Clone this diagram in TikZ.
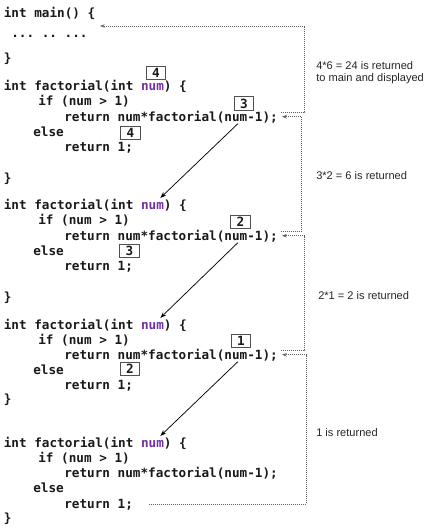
\documentclass[tikz,border=0pt]{standalone}
\usepackage{fontspec}
\setmonofont{DejaVu Sans Mono}
\setsansfont{Liberation Sans}
\usetikzlibrary{arrows.meta,calc}
\definecolor{NumClr}{RGB}{112,48,160}
\definecolor{CodeClr}{RGB}{25,25,25}
\definecolor{BoxClr}{RGB}{80,80,80}
\definecolor{DotClr}{RGB}{95,95,95}
\newcommand{\codefont}{\ttfamily\bfseries\fontsize{9.5}{11}\selectfont}
\newlength{\chw}

\tikzset{
  code/.style={anchor=base west,inner sep=0pt,text=CodeClr,font=\codefont},
  numvar/.style={code,text=NumClr},
  argbox/.style={draw=BoxClr,line width=0.6pt,minimum width=14.5pt,minimum height=10pt,
    inner sep=0pt,text=CodeClr,font=\codefont},
  note/.style={anchor=west,inner sep=0pt,align=left,text=black!85,
    font=\sffamily\fontsize{8.3}{9}\selectfont},
  call/.style={-{Stealth[length=4.5pt,width=3.2pt]},line width=0.55pt,shorten >=4pt},
  back/.style={-{Stealth[length=3.5pt,width=2.6pt]},DotClr,line width=0.65pt,
    dash pattern=on 0.65pt off 0.85pt},
}

\begin{document}
\settowidth{\chw}{\codefont 0}
\begin{tikzpicture}[x=0.75pt,y=-0.75pt]
\useasboundingbox (0,0) rectangle (437,529);

% main
\node[code] (main) at (3.5,17) {int main() \{};
\node[code] (dots) at (11,37) {... .. ...};
\node[code] (mainend) at (3.5,62) {\}};
\coordinate (mainret) at (100,26);

% factorial(4)
\node[code] (hd1) at (3.5,90) {int factorial(int \phantom{num}) \{};
\node[numvar] (num1) at ([xshift=18\chw]hd1.base west) {num};
\node[code] (if1) at (38,105) {if (num > 1)};
\node[code] (ret1) at (64,121) {return num*factorial(num-1);};
\node[code] (else1) at (33,136) {else};
\node[code] (one1) at (64,151) {return 1;};
\node[code] (end1) at (3.5,182) {\}};

% factorial(3)
\node[code] (hd2) at (3.5,209) {int factorial(int \phantom{num}) \{};
\node[numvar] (num2) at ([xshift=18\chw]hd2.base west) {num};
\node[code] (if2) at (38,224) {if (num > 1)};
\node[code] (ret2) at (64,240) {return num*factorial(num-1);};
\node[code] (else2) at (33,255) {else};
\node[code] (one2) at (64,270) {return 1;};
\node[code] (end2) at (3.5,301) {\}};

% factorial(2)
\node[code] (hd3) at (3.5,329) {int factorial(int \phantom{num}) \{};
\node[numvar] (num3) at ([xshift=18\chw]hd3.base west) {num};
\node[code] (if3) at (38,344) {if (num > 1)};
\node[code] (ret3) at (64,359) {return num*factorial(num-1);};
\node[code] (else3) at (33,374) {else};
\node[code] (one3) at (64,389) {return 1;};
\node[code] (end3) at (3.5,403) {\}};

% factorial(1)
\node[code] (hd4) at (3.5,447) {int factorial(int \phantom{num}) \{};
\node[numvar] (num4) at ([xshift=18\chw]hd4.base west) {num};
\node[code] (if4) at (38,462) {if (num > 1)};
\node[code] (ret4) at (64,477) {return num*factorial(num-1);};
\node[code] (else4) at (33,492) {else};
\node[code] (one4) at (64,508) {return 1;};
\node[code] (end4) at (3.5,522) {\}};

% argument values
\node[argbox] (arg4) at (156,73) {4};
\node[argbox] (val4) at (130.5,133) {4};
\node[argbox] (arg3) at (244,103.5) {3};
\node[argbox] (val3) at (129.5,251) {3};
\node[argbox] (arg2) at (240.5,222) {2};
\node[argbox] (val2) at (130,369) {2};
\node[argbox] (arg1) at (241,341) {1};

% recursive calls
\coordinate (src1) at ([xshift=22.8\chw,yshift=-2pt]ret1.base west);
\coordinate (src2) at ([xshift=22.8\chw,yshift=-2pt]ret2.base west);
\coordinate (src3) at ([xshift=22.8\chw,yshift=-2pt]ret3.base west);
\draw[call] (src1) -- (num2);
\draw[call] (src2) -- (num3);
\draw[call] (src3) -- (num4);

% returned values
\draw[back] ([shift={(2pt,3.5pt)}]ret1.east) -- ++(24,0) |- (mainret);
\draw[back] ([shift={(2pt,3.5pt)}]ret2.east) -- ++(21,0) |- ([xshift=3pt]ret1.east);
\draw[back] ([shift={(2pt,3.5pt)}]ret3.east) -- ++(24,0) |- ([xshift=3pt]ret2.east);
\draw[back] ([xshift=12pt]one4.east) -- ($(one4.east -| ret3.east)+(28,0)$)
  |- ([xshift=3pt]ret3.east);

\node[note] (msg4) at (316,73) {4*6 = 24 is returned\\to main and displayed};
\node[note] (msg3) at (316,176) {3*2 = 6 is returned};
\node[note] (msg2) at (318,296) {2*1 = 2 is returned};
\node[note] (msg1) at (316,433) {1 is returned};

\end{tikzpicture}
\end{document}
